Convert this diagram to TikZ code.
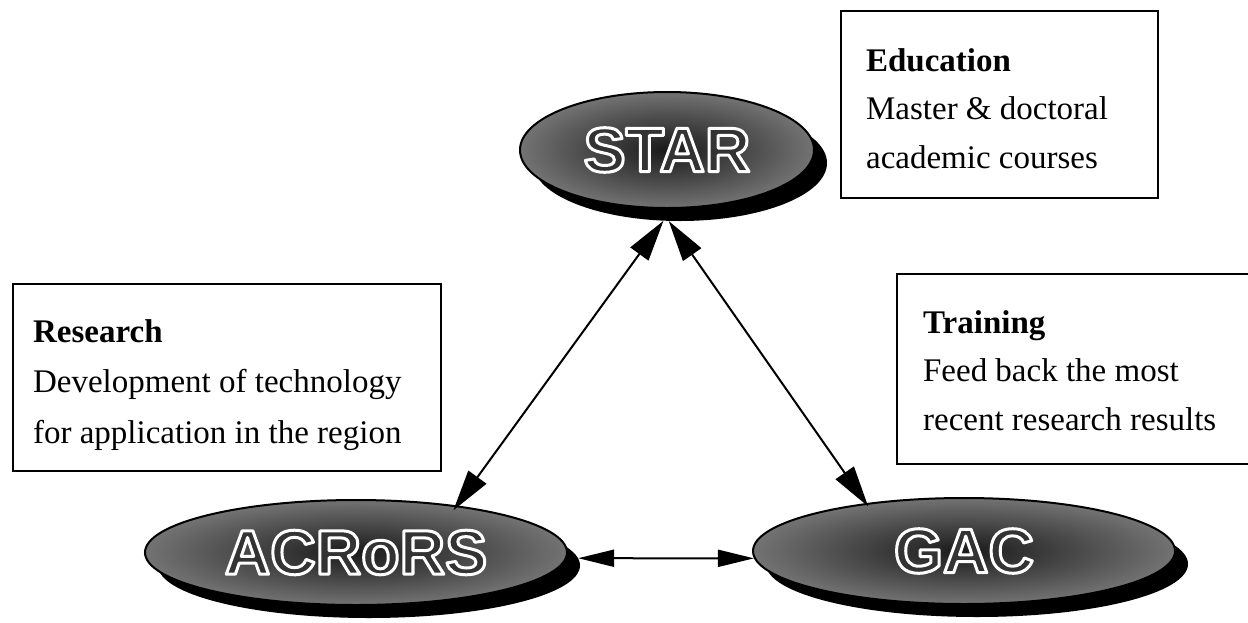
\documentclass[tikz,border=0pt]{standalone}
\usepackage{fontspec}
\setmainfont{Liberation Serif}
\newfontfamily\logofont{Liberation Sans}
\usetikzlibrary{shapes.geometric,arrows.meta}
\newcommand\outlinetext[1]{\special{pdf:literal direct q 1 j 3 w 1 1 1 RG 2 Tr}#1\special{pdf:literal direct Q}}
\begin{document}
\begin{tikzpicture}[x=1pt,y=-1pt,
  infobox/.style={draw, line width=2.2pt, inner sep=0pt, anchor=north west},
  blob/.style={ellipse, draw=black, line width=2pt, inner sep=0pt,
    inner color=black!90, outer color=black!55, text=black!80,
    font=\logofont\bfseries\fontsize{63}{63}\selectfont},
  blobshadow/.style={ellipse, fill=black, inner sep=0pt},
  arr/.style={line width=2pt, {Triangle[length=41pt,width=22pt]}-{Triangle[length=41pt,width=22pt]}},
  harr/.style={line width=2pt, {Triangle[length=36pt,width=17pt]}-{Triangle[length=36pt,width=17pt]}}
]
\useasboundingbox[fill=white] (0,0) rectangle (1248,622);

% information boxes
\node[infobox] (education) at (840,10) {\parbox[c][187pt][t]{317pt}{\leftskip=25pt\fontsize{33}{48.5}\selectfont\rule{0pt}{60pt}\textbf{Education}\\ Master \& doctoral\\ academic courses}};
\node[infobox] (research) at (12,283) {\parbox[c][187pt][t]{428pt}{\leftskip=20pt\fontsize{33}{50.5}\selectfont\rule{0pt}{58pt}\textbf{Research}\\ Development of technology\\ for application in the region}};
\node[infobox] (training) at (896,273) {\parbox[c][190pt][t]{370pt}{\leftskip=26pt\fontsize{33}{48.5}\selectfont\rule{0pt}{59pt}\textbf{Training}\\ Feed back the most\\ recent research results}};

% ellipses with shadows
\node[blobshadow, minimum width=294pt, minimum height=116pt] (star-sh) at (680,163) {};
\node[blob, minimum width=294pt, minimum height=116pt] (star) at (667,150) {\outlinetext{STAR}};
\node[blobshadow, minimum width=422pt, minimum height=105pt] (acrors-sh) at (369,565.5) {};
\node[blob, minimum width=422pt, minimum height=105pt] (acrors) at (356,552.5) {\outlinetext{ACRoRS}};
\node[blobshadow, minimum width=422pt, minimum height=106pt] (gac-sh) at (977,564) {};
\node[blob, minimum width=422pt, minimum height=106pt] (gac) at (964,551) {\outlinetext{GAC}};

% connectors
\draw[arr, shorten >=-6pt] (star-sh.254) -- (acrors.25);
\draw[arr, shorten >=-4pt] (star-sh.259) -- (gac.154);
\draw[harr] (acrors-sh.2) -- (gac.182);
\end{tikzpicture}
\end{document}
